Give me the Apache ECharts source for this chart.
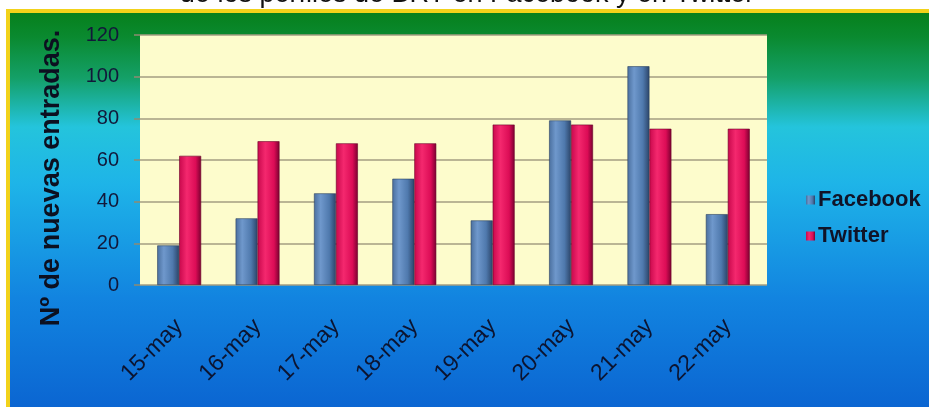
<!DOCTYPE html>
<html>
<head>
<meta charset="utf-8">
<script src="https://cdn.jsdelivr.net/npm/echarts@6/dist/echarts.min.js"></script>
<style>
html,body{margin:0;padding:0;background:#ffffff;}
#main{width:929px;height:407px;}
</style>
</head>
<body>
<div id="main"></div>
<script>
const categories = ['15-may','16-may','17-may','18-may','19-may','20-may','21-may','22-may'];
const facebook = [19, 32, 44, 51, 31, 79, 105, 34];
const twitter = [62, 69, 68, 68, 77, 77, 75, 75];
const yTicks = [0, 20, 40, 60, 80, 100, 120];
const titleText = 'de los perfiles de BRT en Facebook y en Twitter';
const yName = 'Nº de nuevas entradas.';

const chart = echarts.init(document.getElementById('main'), null, {renderer:'canvas'});
const fbColor = new echarts.graphic.LinearGradient(0,0,1,0,[
  {offset:0,color:'#4a6f9e'},{offset:0.3,color:'#6f98cc'},{offset:0.7,color:'#4f79ad'},{offset:1,color:'#2b4468'}]);
const twColor = new echarts.graphic.LinearGradient(0,0,1,0,[
  {offset:0,color:'#c8084c'},{offset:0.35,color:'#f4286e'},{offset:0.75,color:'#dc0c56'},{offset:1,color:'#7a0030'}]);

chart.setOption({
  animation:false,
  textStyle:{fontFamily:'Liberation Sans, Arial, sans-serif'},
  graphic:[
    {type:'rect', z:-10, silent:true, shape:{x:6,y:9,width:929,height:407}, style:{fill:'#f2d21a'}},
    {type:'rect', z:-9, silent:true, shape:{x:10,y:13,width:929,height:407},
      style:{fill:new echarts.graphic.LinearGradient(0,0,0,1,[
        {offset:0,color:'#06801c'},
        {offset:0.06,color:'#0a8a30'},
        {offset:0.16,color:'#14a068'},
        {offset:0.28,color:'#24c4dc'},
        {offset:0.42,color:'#1eb4e8'},
        {offset:0.7,color:'#1284e0'},
        {offset:1,color:'#0a62d0'}])}},
    {type:'text', z:5, silent:true, x:467, y:8,
      style:{text:titleText, font:'27px "Liberation Sans", Arial, sans-serif', fill:'#111111', align:'center', verticalAlign:'bottom'}}
  ],
  grid:{left:140, top:35, right:162, bottom:122, show:true, backgroundColor:'#fdfccc', borderWidth:0},
  legend:{
    orient:'vertical', left:801, top:184, itemWidth:9, itemHeight:9, itemGap:14,
    icon:'rect',
    itemStyle:{borderWidth:0},
    textStyle:{fontSize:22, fontWeight:'bold', color:'#101428', fontFamily:'Liberation Sans, Arial, sans-serif', padding:[0,0,0,-2]},
    data:['Facebook','Twitter']
  },
  xAxis:{
    type:'category', data:categories,
    axisLine:{show:false}, axisTick:{show:false},
    axisLabel:{rotate:45, margin:38, fontSize:23, color:'#0c1430', interval:0}
  },
  yAxis:{
    type:'value', min:0, max:120, interval:20,
    name:yName, nameLocation:'middle', nameGap:75, nameRotate:90,
    nameTextStyle:{fontSize:27, fontWeight:'bold', color:'#0c1020', padding:[0,36,0,0]},
    axisLine:{show:false},
    axisTick:{show:true, length:6, lineStyle:{color:'#8f8a72', width:1.5}},
    splitLine:{lineStyle:{color:'#a39e82', width:1.5}},
    axisLabel:{fontSize:20, color:'#12183a', margin:21,
      formatter:function(v){return yTicks.indexOf(v)>=0?String(v):'';}}
  },
  series:[
    {name:'Facebook', type:'bar', data:facebook, barGap:'0%', barCategoryGap:'44%',
      itemStyle:{color:fbColor, borderColor:'#2a3f60', borderWidth:0.6}},
    {name:'Twitter', type:'bar', data:twitter,
      itemStyle:{color:twColor, borderColor:'#6a0028', borderWidth:0.6}}
  ]
});
</script>
</body>
</html>
